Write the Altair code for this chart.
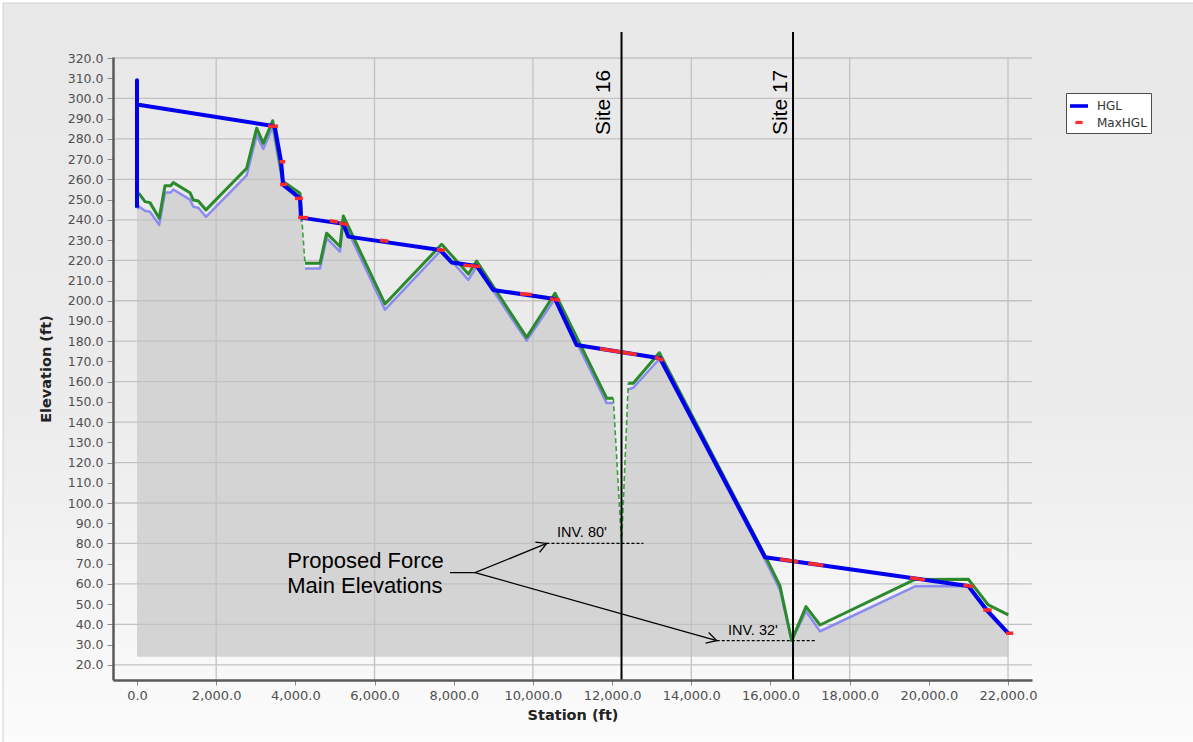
import altair as alt
import pandas as pd

# ---------------- pipe profile (station ft, crown / invert elevation ft) ----------------
run1_station = [0, 58, 202, 328, 561, 707, 851, 918, 1339, 1423, 1549, 1743, 2770, 3023, 3190, 3427, 3690, 4117, 4159]
run1_crown = [253.0, 252.8, 249.0, 248.5, 240.8, 256.9, 256.9, 258.4, 253.4, 249.8, 249.3, 244.9, 265.5, 285.3, 277.8, 289.0, 259.0, 253.1, 241.6]
run1_invert = [245.5, 246.5, 244.5, 244.0, 237.5, 253.5, 253.5, 255.0, 250.0, 246.5, 246.0, 241.5, 262.0, 282.0, 275.0, 286.0, 256.5, 250.5, 239.0]

drop_station = [4159, 4243]
drop_crown = [241.6, 218.5]
drop_invert = [239.0, 216.0]

run2_station = [4243, 4622, 4790, 5127, 5211, 6264, 7696, 8370, 8579, 9842, 10558, 11863, 12031]
run2_crown = [218.5, 218.5, 233.4, 226.8, 241.9, 198.4, 227.9, 213.2, 219.6, 181.9, 203.7, 151.8, 151.8]
run2_invert = [216.0, 216.0, 231.0, 224.3, 239.3, 195.6, 225.3, 210.3, 217.0, 180.3, 201.0, 149.4, 149.4]

# proposed force main dip under Site 16
dip_station = [12031, 12240, 12409]
dip_crown = [151.8, 80.0, 159.2]
dip_invert = [149.4, 80.0, 156.2]

run3_station = [12409, 12535, 13193, 15863, 16241, 16535, 16898, 17252, 19651, 20998, 21503, 22008]
run3_crown = [159.2, 159.2, 174.3, 74.0, 59.0, 32.0, 48.8, 39.7, 62.2, 62.3, 49.6, 44.7]
run3_invert = [156.2, 157.0, 171.2, 72.0, 57.0, 32.0, 46.5, 36.6, 58.8, 59.0, 47.0, 36.0]

# ---------------- hydraulic grade line ----------------
hgl_station = [0, 0, 0, 3402, 3480, 3640, 3690, 4117, 4142, 5211, 5337, 7653, 7948, 8579, 9000,
               10558, 11105, 13210, 15863, 20998, 21460, 22008]
hgl_elev = [246.0, 309.0, 297.0, 286.5, 286.0, 268.7, 257.5, 250.6, 241.1, 238.0, 231.7, 225.1, 218.9,
            217.2, 205.3, 200.9, 178.1, 171.6, 73.2, 59.0, 47.1, 35.6]

# maximum HGL pieces that show along the HGL (start/end station and elevation)
max_st1 = [3310, 3600, 3610, 3990, 4070, 4870, 5110, 6138, 7570, 8243, 9674, 10432, 11695, 13084,
           16241, 16956, 19525, 20872, 21376, 21950]
max_el1 = [286.3, 268.7, 257.5, 250.6, 241.3, 239.5, 238.5, 229.9, 225.3, 217.6, 203.5, 201.0, 176.3, 172.2,
           72.2, 70.2, 63.1, 59.4, 47.1, 35.6]
max_st2 = [3560, 3740, 3790, 4190, 4320, 5070, 5330, 6348, 7780, 8664, 9970, 10685, 12622, 13294,
           16703, 17335, 19904, 21124, 21588, 22134]
max_el2 = [286.3, 268.7, 257.5, 250.6, 241.0, 238.9, 237.5, 229.4, 224.8, 216.9, 203.1, 200.2, 173.4, 170.4,
           70.9, 69.1, 62.0, 58.6, 47.1, 35.6]

# ---------------- sites and annotations ----------------
site_station = [12238, 16570]
site_label = ["Site 16", "Site 17"]
site_label_station = [11947, 16418]
site_label_elev = [281.9, 281.9]

inv_start = [10342, 14643]
inv_end = [12790, 17126]
inv_elev = [80.0, 32.0]
inv_label = ["INV. 80'", "INV. 32'"]
inv_label_station = [10609, 14928]

note_lines = ["Proposed Force", "Main Elevations"]
note_station = [3796, 3796]
note_elev = [68.0, 55.6]

leader_path = [0, 0, 0, 1, 1]
leader_station = [7906, 8538, 10349, 8538, 14643]
leader_elev = [65.6, 65.6, 80.0, 65.6, 32.0]
arrow_station = [10349, 14643]
arrow_elev = [80.0, 32.0]
arrow_angle = [338, 16]

series_names = ["HGL", "MaxHGL"]
series_colors = ["#0000ee", "#ff2b2b"]

grid_elev = list(range(20, 321, 20))
grid_station = [2000, 6000, 10000, 14000, 18000, 22000]
x_tick_values = list(range(0, 22001, 2000))
y_tick_values = list(range(20, 321, 10))
ground_base = 24.0

# ---------------- chart geometry ----------------
W, H = 919, 623
xscale = alt.Scale(domain=[-606, 22606], nice=False, zero=False)
yscale = alt.Scale(domain=[12.5, 320.5], nice=False, zero=False)

x_axis = alt.Axis(values=x_tick_values, format=",.1f", title="Station (ft)", grid=False,
                  labelFont="DejaVu Sans", labelFontSize=13, labelColor="#505050",
                  tickColor="#8a8a8a", tickSize=5, labelPadding=4,
                  domainColor="#5a5a5a", domainWidth=2.5,
                  titleFont="DejaVu Sans", titleFontSize=14.5, titleFontWeight="bold",
                  titleColor="#222222", titlePadding=6, zindex=1)
y_axis = alt.Axis(values=y_tick_values, format=".1f", title="Elevation (ft)", grid=False,
                  labelFont="DejaVu Sans", labelFontSize=12.5, labelColor="#505050",
                  tickColor="#8a8a8a", tickSize=6, labelPadding=4,
                  domainColor="#5a5a5a", domainWidth=2.5,
                  titleFont="DejaVu Sans", titleFontSize=14.5, titleFontWeight="bold",
                  titleColor="#222222", titlePadding=14, zindex=1)


def X(field):
    return alt.X(f"{field}:Q", scale=xscale, axis=x_axis)


def Y(field):
    return alt.Y(f"{field}:Q", scale=yscale, axis=y_axis)


def runs(parts):
    rows = []
    for seg, (st, cr, inv) in enumerate(parts):
        for i, (s, c, v) in enumerate(zip(st, cr, inv)):
            rows.append({"seg": seg, "i": i, "station": s, "crown": c, "invert": v})
    return pd.DataFrame(rows)


existing = runs([(run1_station, run1_crown, run1_invert),
                 (run2_station, run2_crown, run2_invert),
                 (run3_station, run3_crown, run3_invert)])
proposed = runs([(drop_station, drop_crown, drop_invert),
                 (dip_station, dip_crown, dip_invert)])
ground = pd.DataFrame({
    "station": run1_station + drop_station + run2_station + dip_station + run3_station,
    "invert": run1_invert + drop_invert + run2_invert + dip_invert + run3_invert,
})

hgl = pd.DataFrame({"station": hgl_station, "elev": hgl_elev, "i": range(len(hgl_station))})
maxhgl = pd.DataFrame({"s1": max_st1, "e1": max_el1, "s2": max_st2, "e2": max_el2})
sites = pd.DataFrame({"station": site_station})
site_text = pd.DataFrame({"station": site_label_station, "elev": site_label_elev, "label": site_label})
inv = pd.DataFrame({"s1": inv_start, "s2": inv_end, "elev": inv_elev,
                    "label": inv_label, "ls": inv_label_station})
notes = pd.DataFrame({"station": note_station, "elev": note_elev, "label": note_lines})
leader = pd.DataFrame({"path": leader_path, "station": leader_station, "elev": leader_elev,
                       "i": range(len(leader_path))})
arrows = pd.DataFrame({"station": arrow_station, "elev": arrow_elev, "angle": arrow_angle})
legend_df = pd.DataFrame({"series": series_names, "station": hgl_station[:2], "elev": hgl_elev[:2]})

# ---------------- layers ----------------
backdrop = alt.Chart(pd.DataFrame({"k": [0]})).mark_rect(
    color=alt.LinearGradient(
        gradient="linear", x1=0, x2=0, y1=0, y2=1,
        stops=[alt.GradientStop(offset=0, color="#e8e8e8"),
               alt.GradientStop(offset=0.55, color="#ececec"),
               alt.GradientStop(offset=1, color="#fcfcfc")]),
    stroke="#cfcfcf", strokeWidth=1,
).encode(x=alt.value(-110), x2=alt.value(W + 200), y=alt.value(-54), y2=alt.value(H + 70))

# gridlines sit above the ground fill but below the profile lines
hgrid = alt.Chart(pd.DataFrame({"elev": grid_elev})).mark_rule(
    color="#c2c2c2", strokeWidth=1.3).encode(y=Y("elev"))
vgrid = alt.Chart(pd.DataFrame({"station": grid_station})).mark_rule(
    color="#c2c2c2", strokeWidth=1.3).encode(x=X("station"))

fill = alt.Chart(ground).mark_area(color="#d4d4d4", opacity=1).encode(
    x=X("station"), y=Y("invert"), y2=alt.Y2(datum=ground_base))

invert_line = alt.Chart(existing).mark_line(
    color="#7c7cf2", strokeWidth=2.5, opacity=0.85, strokeJoin="round").encode(
    x=X("station"), y=Y("invert"), detail="seg:N", order="i:Q")

crown_line = alt.Chart(existing).mark_line(
    color="#2b8a2b", strokeWidth=3, strokeJoin="round").encode(
    x=X("station"), y=Y("crown"), detail="seg:N", order="i:Q")

proposed_line = alt.Chart(proposed).mark_line(
    color="#38a038", strokeWidth=1.6, strokeDash=[5, 3]).encode(
    x=X("station"), y=Y("crown"), detail="seg:N", order="i:Q")

hgl_line = alt.Chart(hgl).mark_line(
    color=series_colors[0], strokeWidth=4, strokeJoin="round").encode(
    x=X("station"), y=Y("elev"), order="i:Q")

max_marks = alt.Chart(maxhgl).mark_rule(
    color=series_colors[1], strokeWidth=3.5, strokeCap="butt").encode(
    x=X("s1"), x2="s2", y=Y("e1"), y2="e2")

site_rules = alt.Chart(sites).mark_rule(color="black", strokeWidth=2).encode(
    x=X("station"), y=alt.Y(datum=332.9, type="quantitative", scale=yscale, axis=y_axis),
    y2=alt.Y2(datum=12.5))

site_labels = alt.Chart(site_text).mark_text(
    angle=270, align="left", baseline="alphabetic", font="Liberation Sans",
    fontSize=21, color="black").encode(x=X("station"), y=Y("elev"), text="label:N")

inv_lines = alt.Chart(inv).mark_rule(color="black", strokeWidth=1.2, strokeDash=[3, 2]).encode(
    x=X("s1"), x2="s2", y=Y("elev"))

inv_labels = alt.Chart(inv).mark_text(
    align="left", baseline="alphabetic", dy=-6, font="Liberation Sans",
    fontSize=14.5, color="black").encode(x=X("ls"), y=Y("elev"), text="label:N")

note_text = alt.Chart(notes).mark_text(
    align="left", baseline="alphabetic", font="Liberation Sans",
    fontSize=22, color="black").encode(x=X("station"), y=Y("elev"), text="label:N")

leader_lines = alt.Chart(leader).mark_line(color="black", strokeWidth=1.3).encode(
    x=X("station"), y=Y("elev"), detail="path:N", order="i:Q")

arrow_heads = alt.Chart(arrows).mark_point(
    shape="M-1,-0.55L0,0L-1,0.55", filled=False, color="black", strokeWidth=1.3, size=400,
    opacity=1).encode(x=X("station"), y=Y("elev"), angle=alt.Angle("angle:Q", scale=None))

# trailing no-break spaces give the legend box its right-hand margin
series_legend = alt.Legend(title=None, labelExpr="datum.label + '\u00a0\u00a0\u00a0'")
legend_layer = alt.Chart(legend_df).mark_point(filled=True, opacity=0).encode(
    x=X("station"), y=Y("elev"),
    color=alt.Color("series:N", scale=alt.Scale(domain=series_names, range=series_colors),
                    legend=series_legend),
    shape=alt.Shape("series:N",
                    scale=alt.Scale(domain=series_names,
                                    range=["M-1,-0.2H1V0.2H-1Z", "M-0.4,-0.18H0.4V0.18H-0.4Z"]),
                    legend=series_legend),
)

chart = alt.layer(
    backdrop, fill, hgrid, vgrid, invert_line, crown_line, proposed_line, hgl_line, max_marks,
    site_rules, site_labels, inv_lines, inv_labels, note_text, leader_lines, arrow_heads, legend_layer,
).properties(
    width=W, height=H,
    autosize=alt.AutoSizeParams(type="none"),
    padding={"left": 113, "top": 57, "right": 161, "bottom": 62},
    background="white",
).configure_view(stroke=None).configure_legend(
    orient="none", legendX=953, legendY=36, fillColor="white", strokeColor="#4d4d4d",
    padding=4, labelFont="DejaVu Sans", labelFontSize=12, labelColor="#333333", labelOffset=9,
    symbolOpacity=1, symbolSize=324, symbolStrokeWidth=0, rowPadding=1.5, zindex=1,
)

chart.save("out.html", embed_options={"renderer": "svg", "actions": False})
